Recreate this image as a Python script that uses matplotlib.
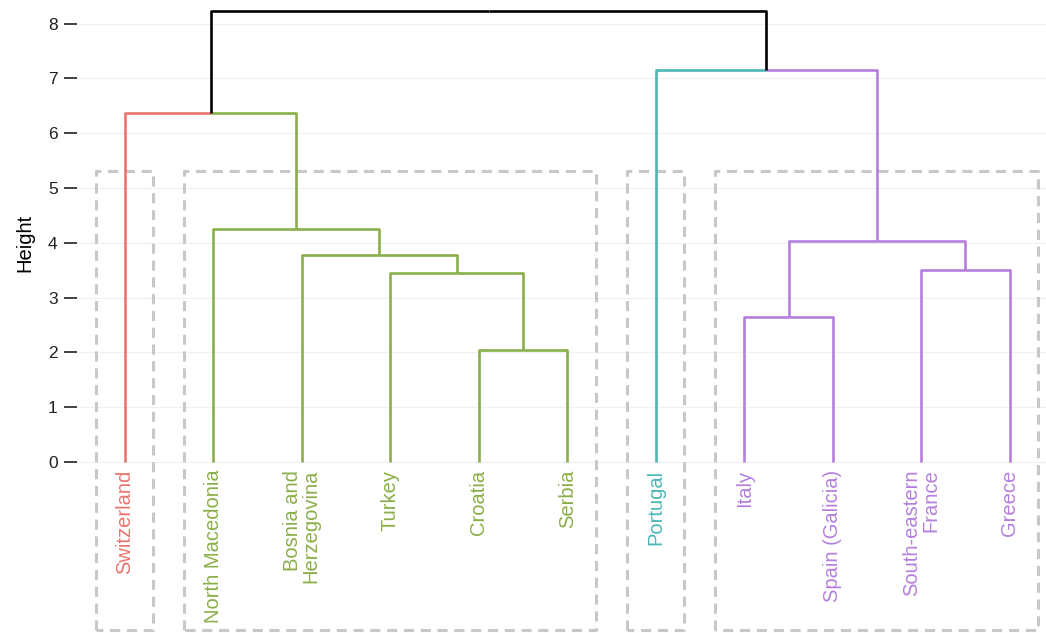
import matplotlib.pyplot as plt

plt.rcParams['font.family'] = ['Liberation Sans', 'DejaVu Sans']

# --- DATA ---
# leaves in plotting order (left to right)
leaves = ["Switzerland", "North Macedonia", "Bosnia and\nHerzegovina", "Turkey",
          "Croatia", "Serbia", "Portugal", "Italy", "Spain (Galicia)",
          "South-eastern\nFrance", "Greece"]
leaf_cluster = [0, 1, 1, 1, 1, 1, 2, 3, 3, 3, 3]

# merges: (left child, right child, height); children are leaf names or merge ids "m<i>"
merges = [
    ("Croatia", "Serbia", 2.05),                 # m0
    ("Italy", "Spain (Galicia)", 2.64),          # m1
    ("Turkey", "m0", 3.44),                      # m2
    ("South-eastern\nFrance", "Greece", 3.51),   # m3
    ("Bosnia and\nHerzegovina", "m2", 3.77),     # m4
    ("m1", "m3", 4.04),                          # m5
    ("North Macedonia", "m4", 4.25),             # m6
    ("Switzerland", "m6", 6.37),                 # m7
    ("Portugal", "m5", 7.16),                    # m8
    ("m7", "m8", 8.23),                          # m9
]

cluster_colors = ["#E8756D", "#8AAF48", "#4CB7B8", "#B47FDD"]
rect_top = 5.31
rect_bottom = -3.07

# --- BUILD TREE POSITIONS ---
node_x, node_h, node_c = {}, {}, {}
for i, name in enumerate(leaves):
    node_x[name] = i + 1
    node_h[name] = 0.0
    node_c[name] = leaf_cluster[i]

for i, (a, b, h) in enumerate(merges):
    key = "m%d" % i
    node_x[key] = (node_x[a] + node_x[b]) / 2
    node_h[key] = h
    node_c[key] = node_c[a] if node_c[a] == node_c[b] else None

fig = plt.figure(figsize=(10.46, 6.33), dpi=100)
ax = fig.add_axes([77 / 1046, 0, 969 / 1046, 1])

# --- DENDROGRAM ---
for i, (a, b, h) in enumerate(merges):
    mid = node_x["m%d" % i]
    for child in (a, b):
        c = node_c[child]
        col = cluster_colors[c] if c is not None else "black"
        ax.plot([node_x[child], node_x[child], mid], [node_h[child], h, h],
                color=col, lw=1.9, solid_capstyle="butt", zorder=3)

# --- LEAF LABELS ---
for i, name in enumerate(leaves):
    ax.text(i + 1, -0.14, name, rotation=90, ha="center", va="top",
            multialignment="right", fontsize=14.5, linespacing=0.95,
            color=cluster_colors[leaf_cluster[i]])

# --- CLUSTER RECTANGLES ---
groups = []
for i, c in enumerate(leaf_cluster):
    if groups and groups[-1][0] == c:
        groups[-1][2] = i + 1
    else:
        groups.append([c, i + 1, i + 1])
for c, first, last in groups:
    x0, x1 = first - 0.33, last + 0.32
    ax.plot([x0, x0, x1, x1, x0], [rect_bottom, rect_top, rect_top, rect_bottom, rect_bottom],
            color="#C8C8C8", lw=2.2, ls=(0, (3.3, 2.2)), zorder=2)

# --- GRAPH FORMATTING ---
ax.set_xlim(1 - 48 / 88.5, 11.41)
ax.set_ylim(-3.12, 8.43)
ax.set_yticks(range(0, 9))
ax.set_xticks([])
for s in ax.spines.values():
    s.set_visible(False)
ax.grid(axis="y", color="#EFEFEF", lw=0.8)
ax.set_axisbelow(True)
ax.tick_params(axis="y", length=9.4, width=1.3, color="#333333",
               labelsize=12.5, labelcolor="#222222", pad=4.5)

fig.text(25 / 1046, 1 - 243 / 633, "Height", rotation=90, fontsize=14.5,
         ha="center", va="center")

fig.savefig("out.png", dpi=100)
